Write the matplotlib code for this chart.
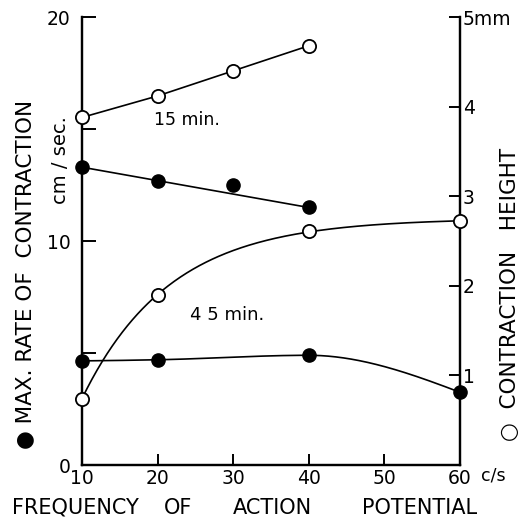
import numpy as np
import matplotlib
matplotlib.use("Agg")
import matplotlib.pyplot as plt

# frequency of action potential (c/s)
freq_15 = [10, 20, 30, 40]
freq_45 = [10, 20, 40, 60]

# max. rate of contraction (cm/sec), filled circles, left axis
rate_15 = [13.3, 12.7, 12.5, 11.5]
rate_45 = [4.65, 4.7, 4.9, 3.25]

# contraction height (mm), open circles, right axis
height_15 = [3.88, 4.12, 4.4, 4.68]
height_45 = [0.74, 1.9, 2.61, 2.72]

xticks = [10, 20, 30, 40, 50, 60]
left_ticks = [0, 5, 10, 15, 20]
left_labels = ["0", "", "10", "", "20"]
right_ticks = [1, 2, 3, 4, 5]
right_labels = ["1", "2", "3", "4", "5mm"]


def end_slope(h0, h1, d0, d1):
    m = ((2 * h0 + h1) * d0 - h0 * d1) / (h0 + h1)
    if np.sign(m) != np.sign(d0):
        m = 0.0
    elif np.sign(d0) != np.sign(d1) and abs(m) > abs(3 * d0):
        m = 3 * d0
    return m


def pchip(x, y, xs):
    # monotone cubic through the points
    x = np.asarray(x, float)
    y = np.asarray(y, float)
    h = np.diff(x)
    d = np.diff(y) / h
    m = np.zeros_like(y)
    for k in range(1, len(x) - 1):
        if d[k - 1] * d[k] > 0:
            w1 = 2 * h[k] + h[k - 1]
            w2 = h[k] + 2 * h[k - 1]
            m[k] = (w1 + w2) / (w1 / d[k - 1] + w2 / d[k])
    m[0] = end_slope(h[0], h[1], d[0], d[1])
    m[-1] = end_slope(h[-1], h[-2], d[-1], d[-2])
    out = np.empty_like(xs)
    for i, xv in enumerate(xs):
        k = min(np.searchsorted(x, xv, side="right") - 1, len(x) - 2)
        t = (xv - x[k]) / h[k]
        h00 = 2 * t**3 - 3 * t**2 + 1
        h10 = t**3 - 2 * t**2 + t
        h01 = -2 * t**3 + 3 * t**2
        h11 = t**3 - t**2
        out[i] = h00 * y[k] + h10 * h[k] * m[k] + h01 * y[k + 1] + h11 * h[k] * m[k + 1]
    return out


def saturating(x, y, xs):
    # least squares fit of y = a - b*exp(-c*x)
    x = np.asarray(x, float)
    y = np.asarray(y, float)
    best = None
    for c in np.linspace(0.01, 0.3, 800):
        A = np.column_stack([np.ones_like(x), -np.exp(-c * x)])
        coef, res, _, _ = np.linalg.lstsq(A, y, rcond=None)
        err = np.sum((A @ coef - y) ** 2)
        if best is None or err < best[0]:
            best = (err, c, coef)
    _, c, (a, b) = best
    return a - b * np.exp(-c * xs)


plt.rcParams["font.family"] = ["DejaVu Sans"]

fig = plt.figure(figsize=(5.25, 5.19), dpi=100)
ax = fig.add_axes([0.156, 0.104, 0.72, 0.863])
ax2 = ax.twinx()

ax.set_xlim(10, 60)
ax.set_ylim(0, 20)
ax2.set_ylim(0, 5)

lw = 1.2
ms = 9.5

# 15 min: straight lines
ax2.plot(freq_15, height_15, "-", color="black", lw=lw)
ax2.plot(freq_15, height_15, "o", mfc="white", mec="black", mew=1.3, ms=ms, clip_on=False, zorder=5)

ax.plot([freq_15[0], freq_15[-1]], [rate_15[0], rate_15[-1]], "-", color="black", lw=lw)
ax.plot(freq_15, rate_15, "o", color="black", ms=ms, clip_on=False, zorder=5)

# 45 min: smooth curves
xs = np.linspace(10, 60, 300)
ax2.plot(xs, saturating(freq_45, height_45, xs), "-", color="black", lw=lw)
ax2.plot(freq_45, height_45, "o", mfc="white", mec="black", mew=1.3, ms=ms, clip_on=False, zorder=5)

ax.plot(xs, pchip(freq_45, rate_45, xs), "-", color="black", lw=lw)
ax.plot(freq_45, rate_45, "o", color="black", ms=ms, clip_on=False, zorder=5)

ax.text(19.5, 15.4, "15 min.", fontsize=12.5, va="center")
ax.text(24.3, 6.7, "4 5 min.", fontsize=13, va="center")

for a in (ax, ax2):
    a.spines["top"].set_visible(False)
    for s in a.spines.values():
        s.set_linewidth(1.6)

ax.set_xticks(xticks)
ax.set_xticklabels([str(v) for v in xticks], fontsize=13.5)
ax.set_yticks(left_ticks)
ax.set_yticklabels(left_labels, fontsize=13.5)
ax.tick_params(axis="both", direction="in", width=1.4)
ax.tick_params(axis="y", length=10, pad=8)
ax.tick_params(axis="x", length=8, pad=3)

ax2.set_yticks(right_ticks)
ax2.set_yticklabels(right_labels, fontsize=13.5)
ax2.tick_params(axis="y", direction="in", length=8, width=1.4, pad=2)

fig.text(0.94, 0.083, "c/s", fontsize=12.5, ha="center", va="center")
for word, xc in [("FREQUENCY", 75), ("OF", 178), ("ACTION", 272), ("POTENTIAL", 420)]:
    fig.text(xc / 525, 1 - 508 / 519, word, fontsize=15, ha="center", va="center")
fig.text(0.048, 0.472, "● MAX. RATE OF  CONTRACTION", fontsize=15.5, rotation=90,
         ha="center", va="center")
fig.text(0.116, 0.692, "cm / sec.", fontsize=14, rotation=90, ha="center", va="center")
fig.text(0.972, 0.432, "○  CONTRACTION   HEIGHT", fontsize=15.5, rotation=90,
         ha="center", va="center")

fig.savefig("out.png", dpi=100)
